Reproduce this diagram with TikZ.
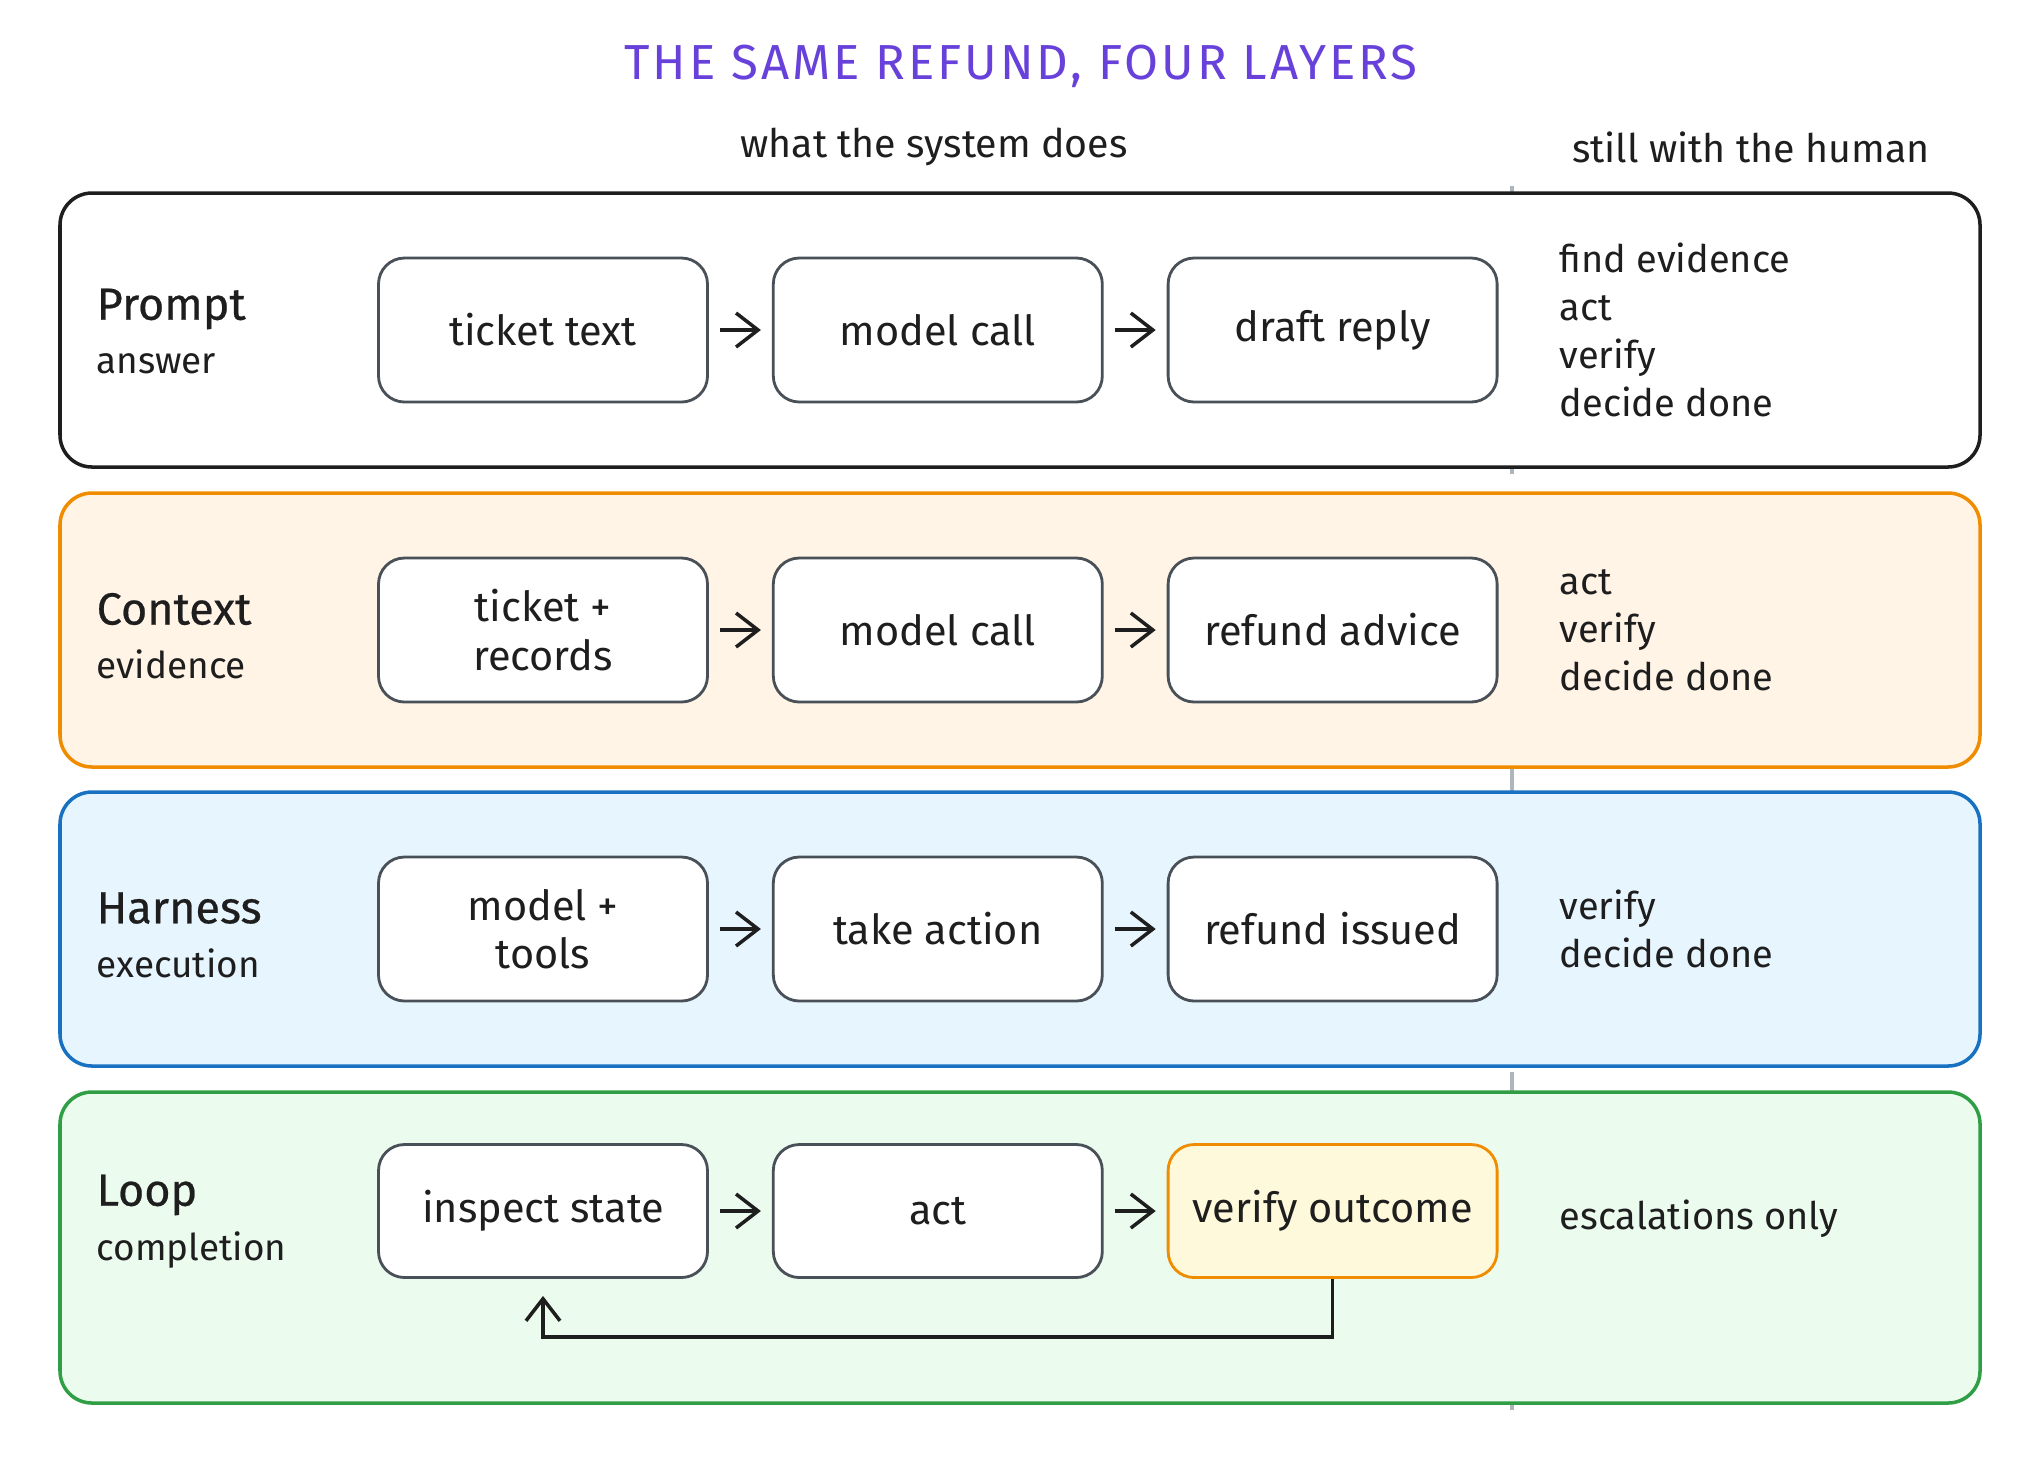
\documentclass[tikz,border=0pt]{standalone}
\usepackage{fontspec}
\setmainfont{Fira Sans}
\newfontfamily\titlefont[LetterSpace=6]{Fira Sans}
\newfontfamily\namefont[FakeBold=0.5]{Fira Sans}
\usetikzlibrary{arrows.meta,positioning}
\definecolor{ink}{HTML}{1E1E1E}
\definecolor{slate}{HTML}{495057}
\definecolor{violet}{HTML}{6741D9}
\definecolor{tangerine}{HTML}{F08C00}
\definecolor{peach}{HTML}{FFF4E6}
\definecolor{sky}{HTML}{1971C2}
\definecolor{ice}{HTML}{E7F5FF}
\definecolor{grass}{HTML}{2F9E44}
\definecolor{mint}{HTML}{EBFBEE}
\definecolor{cream}{HTML}{FFF9DB}
\definecolor{divider}{HTML}{ADB5BD}
\tikzset{
  >={Straight Barb[length=2.2mm,width=3.4mm]},
  band/.style={draw=#1,line width=1pt,rounded corners=3.2mm},
  band/.default=ink,
  stage/.style={draw=#1,fill=white,line width=0.8pt,rounded corners=2.6mm,
    minimum width=32.9mm,minimum height=14.4mm,align=center,text=ink,
    font=\fontsize{11.8}{13.7}\selectfont},
  stage/.default=slate,
  flow/.style={->,draw=ink,line width=1pt,shorten <=1.1mm,shorten >=1.1mm},
  head/.style={text=ink,font=\fontsize{11.2}{14}\selectfont},
  layer name/.style={anchor=west,inner sep=0pt,text=ink,font=\namefont\fontsize{12.8}{15}\selectfont},
  layer sub/.style={anchor=west,inner sep=0pt,text=ink,font=\fontsize{10.5}{13}\selectfont},
  human/.style={anchor=west,inner sep=0pt,align=left,text=ink,font=\fontsize{10.8}{13.7}\selectfont},
}

\begin{document}
\begin{tikzpicture}[x=0.1mm,y=-0.1mm]
  \useasboundingbox (0,0) rectangle (2040,1464);
  \node[text=violet,font=\titlefont\fontsize{14}{16}\selectfont] (title) at (1021,66) {THE SAME REFUND, FOUR LAYERS};
  \node[head] (sys) at (934,147) {what the system does};
  \node[head] (still) at (1751,147) {still with the human};
  \draw[divider,line width=0.9pt,dash pattern=on 10pt off 8pt] (1512,186) -- (1512,1410);
  % three straight layers
  \foreach \lname/\lsub/\lcol/\lfill/\ly/\ba/\bb/\bc/\hum [count=\i] in {
      Prompt/answer/ink/white/330/ticket text/model call/draft reply/{find evidence\\act\\verify\\decide done},
      Context/evidence/tangerine/peach/630/{ticket +\\records}/model call/refund advice/{act\\verify\\decide done},
      Harness/execution/sky/ice/929/{model +\\tools}/take action/refund issued/{verify\\decide done}}{
    \draw[band=\lcol,fill=\lfill] (60,\ly-137) rectangle (1980,\ly+137);
    \node[layer name] (n\i) at (96,\ly-21) {\lname};
    \node[layer sub] (s\i) at (96,\ly+34) {\lsub};
    \node[stage] (b\i-1) at (543,\ly) {\ba};
    \node[stage,right=6.3mm of b\i-1] (b\i-2) {\bb};
    \node[stage,right=6.3mm of b\i-2] (b\i-3) {\bc};
    \draw[flow] (b\i-1) -- (b\i-2);
    \draw[flow] (b\i-2) -- (b\i-3);
    \node[human] (h\i) at (1559,\ly) {\hum};
  }
  % the loop layer
  \draw[band=grass,fill=mint] (60,1092) rectangle (1980,1403);
  \node[layer name] (n4) at (96,1195) {Loop};
  \node[layer sub] (s4) at (96,1250) {completion};
  \node[stage,minimum height=13.3mm] (b4-1) at (543,1211) {inspect state};
  \node[stage,minimum height=13.3mm,right=6.3mm of b4-1] (b4-2) {act};
  \node[stage=tangerine,fill=cream,minimum height=13.3mm,right=6.3mm of b4-2] (b4-3) {verify outcome};
  \draw[flow] (b4-1) -- (b4-2);
  \draw[flow] (b4-2) -- (b4-3);
  \draw[->,draw=ink,line width=1pt,shorten >=1.7mm] (b4-3.south) -- ++(0,58) -| (b4-1.south);
  \node[human] (h4) at (1559,1219) {escalations only};
\end{tikzpicture}
\end{document}
